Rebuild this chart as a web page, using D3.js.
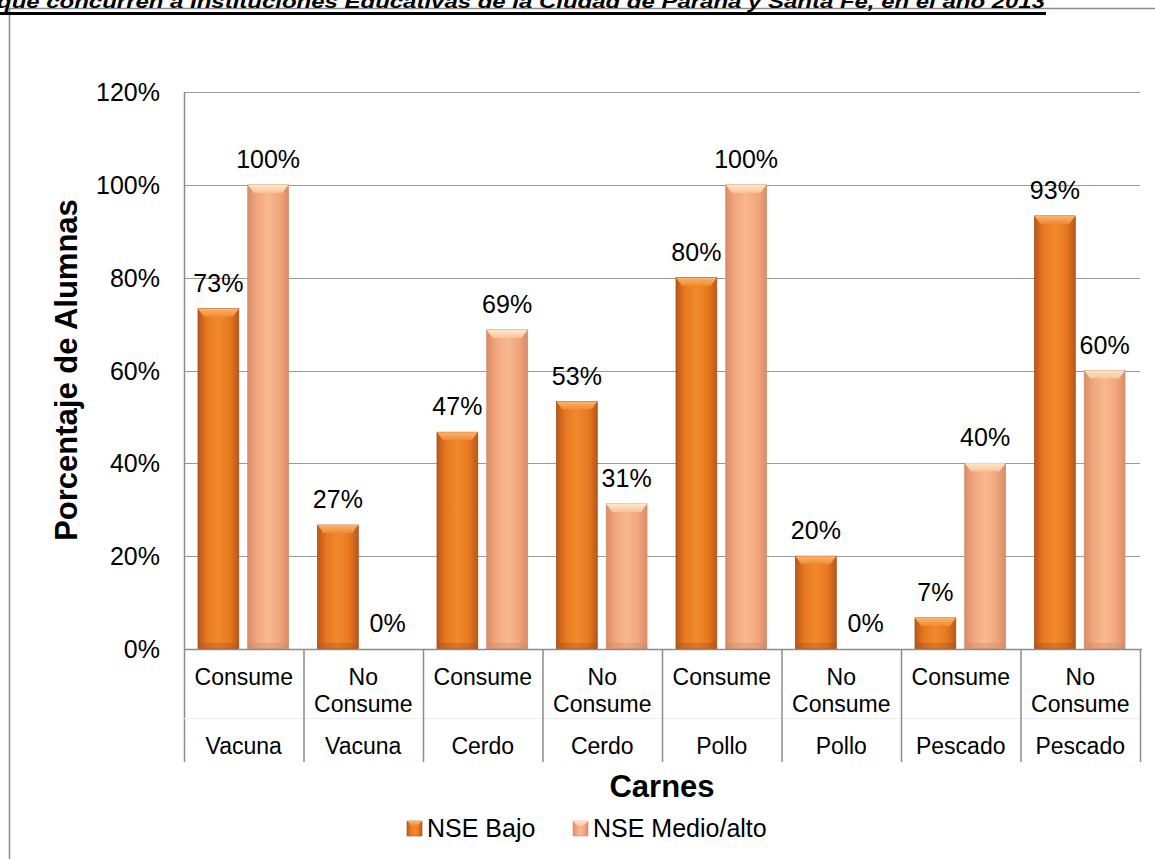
<!DOCTYPE html>
<html><head><meta charset="utf-8">
<script src="https://cdn.jsdelivr.net/npm/d3@7"></script>
<style>body{margin:0;background:#fff}svg{display:block;font-family:"Liberation Sans",Arial,sans-serif}</style>
</head><body>
<svg id="c" width="1155" height="859"></svg>
<script>
const categories = ["Vacuna","Vacuna","Cerdo","Cerdo","Pollo","Pollo","Pescado","Pescado"];
const subLabels = ["Consume","No Consume","Consume","No Consume","Consume","No Consume","Consume","No Consume"];
const seriesNames = ["NSE Bajo","NSE Medio/alto"];
const bajo = [73.3, 26.7, 46.7, 53.3, 80, 20, 6.7, 93.3];
const medio = [100, 0, 68.75, 31.25, 100, 0, 40, 60];
const yTicks = [0,20,40,60,80,100,120];
const titleText = "que concurren a Instituciones Educativas de la Ciudad de Paraná y Santa Fe, en el año 2013";

const svg = d3.select("#c");
const L = 184, R = 1140, T = 92, B = 649;
const idx = d3.range(categories.length);
const x = d3.scaleBand().domain(idx).range([L,R]).paddingInner(0).paddingOuter(0);
const y = d3.scaleLinear().domain([0,120]).range([B,T]);
const inner = d3.scaleBand().domain([0,1]).range([14, x.bandwidth()-15]).paddingInner(0.18);

const defs = svg.append("defs");
function grad(id, edge, mid, light){
  const g = defs.append("linearGradient").attr("id",id).attr("x1","0").attr("x2","1").attr("y1","0").attr("y2","0");
  g.append("stop").attr("offset","0%").attr("stop-color",edge);
  g.append("stop").attr("offset","22%").attr("stop-color",mid);
  g.append("stop").attr("offset","50%").attr("stop-color",light);
  g.append("stop").attr("offset","78%").attr("stop-color",mid);
  g.append("stop").attr("offset","100%").attr("stop-color",edge);
}
grad("g0","#b9581a","#e8781f","#f08a2c");
grad("g1","#d98c68","#f2a67c","#f8b890");
function vgrad(id, top, bottom){
  const g = defs.append("linearGradient").attr("id",id).attr("x1","0").attr("x2","0").attr("y1","0").attr("y2","1");
  g.append("stop").attr("offset","0%").attr("stop-color",top);
  g.append("stop").attr("offset","100%").attr("stop-color",bottom);
}
vgrad("t0","#fbb56e","#ef8a30");
vgrad("t1","#fde8c8","#f8c39c");

// frame
svg.append("line").attr("x1",9).attr("x2",1155).attr("y1",8.5).attr("y2",8.5).attr("stroke","#8c8c8c").attr("stroke-width",1.5);
svg.append("line").attr("x1",9.5).attr("x2",9.5).attr("y1",8).attr("y2",859).attr("stroke","#8c8c8c").attr("stroke-width",1.5);

// title (clipped at top, as in the reference)
svg.append("text").attr("x",-3).attr("y",8).attr("font-size",18).attr("font-weight","bold").attr("font-style","italic")
  .attr("textLength",1048).attr("lengthAdjust","spacingAndGlyphs").text(titleText);
svg.append("rect").attr("x",0).attr("y",12).attr("width",1046).attr("height",3).attr("fill","#000");

// gridlines
svg.append("g").selectAll("line").data(yTicks.filter(d=>d>0)).join("line")
  .attr("x1",L).attr("x2",R).attr("y1",d=>Math.round(y(d))+0.5).attr("y2",d=>Math.round(y(d))+0.5)
  .attr("stroke","#9a9a9a").attr("stroke-width",1);

// y axis labels
svg.append("g").selectAll("text").data(yTicks).join("text")
  .attr("x",160).attr("y",d=>y(d)+9).attr("text-anchor","end").attr("font-size",25).attr("fill","#000")
  .text(d=>d+"%");

// bars
const series = [bajo, medio];
series.forEach((vals,s)=>{
  const g = svg.append("g");
  const bw = inner.bandwidth();
  g.selectAll("rect.b").data(idx.filter(i=>vals[i]>0)).join("rect").attr("class","b")
    .attr("x",i=>x(i)+inner(s)).attr("width",bw)
    .attr("y",i=>y(vals[i])).attr("height",i=>B-y(vals[i]))
    .attr("fill",`url(#g${s})`).attr("stroke", s===0?"#a9501a":"#d0906e").attr("stroke-width",0.8);
  g.selectAll("path.t").data(idx.filter(i=>vals[i]>0)).join("path").attr("class","t")
    .attr("d",i=>{const x0=x(i)+inner(s), y0=y(vals[i]); const h=Math.min(8,(B-y0)/2);
      return `M${x0},${y0}L${x0+bw},${y0}L${x0+bw-6},${y0+h}L${x0+6},${y0+h}Z`;})
    .attr("fill",`url(#t${s})`);
  g.selectAll("rect.s").data(idx.filter(i=>vals[i]>0)).join("rect").attr("class","s")
    .attr("x",i=>x(i)+inner(s)).attr("width",bw).attr("y",B-6).attr("height",6)
    .attr("fill", s===0?"#a9541c":"#c98a6a").attr("opacity",0.35);
  g.selectAll("text").data(idx).join("text")
    .attr("x",i=>x(i)+inner(s)+bw/2).attr("y",i=>y(vals[i])-17)
    .attr("text-anchor","middle").attr("font-size",25).attr("fill","#000")
    .text(i=>Math.round(vals[i])+"%");
});

// axis lines
svg.append("line").attr("x1",L+0.5).attr("x2",L+0.5).attr("y1",T).attr("y2",762).attr("stroke","#8c8c8c").attr("stroke-width",1.5);
svg.append("line").attr("x1",L).attr("x2",R+2).attr("y1",B+0.5).attr("y2",B+0.5).attr("stroke","#8c8c8c").attr("stroke-width",1.5);
svg.append("line").attr("x1",L).attr("x2",R+2).attr("y1",718.5).attr("y2",718.5).attr("stroke","#ececec").attr("stroke-width",1);
svg.append("g").selectAll("line").data(idx).join("line")
  .attr("x1",i=>x(i)+x.bandwidth()+0.5).attr("x2",i=>x(i)+x.bandwidth()+0.5).attr("y1",B).attr("y2",762)
  .attr("stroke","#8c8c8c").attr("stroke-width",1.5);

// category labels
const cx = i=>x(i)+x.bandwidth()/2;
idx.forEach(i=>{
  const parts = subLabels[i].split(" ");
  const tx = svg.append("text").attr("text-anchor","middle").attr("font-size",23).attr("fill","#000");
  parts.forEach((p,k)=>tx.append("tspan").attr("x",cx(i)).attr("y",685+k*27).text(p));
  svg.append("text").attr("x",cx(i)).attr("y",754).attr("text-anchor","middle").attr("font-size",23).attr("fill","#000").text(categories[i]);
});

// axis titles
svg.append("text").attr("transform","translate(77,370) rotate(-90)").attr("text-anchor","middle")
  .attr("font-size",31).attr("font-weight","bold").text("Porcentaje de Alumnas");
svg.append("text").attr("x",662).attr("y",797).attr("text-anchor","middle")
  .attr("font-size",31).attr("font-weight","bold").text("Carnes");

// legend
const lg = [{x:407,tx:427},{x:573,tx:593}];
seriesNames.forEach((n,s)=>{
  svg.append("rect").attr("x",lg[s].x).attr("y",821).attr("width",15).attr("height",15).attr("fill",`url(#g${s})`)
    .attr("stroke",s===0?"#a9501a":"#d0906e").attr("stroke-width",0.6);
  svg.append("path").attr("d",`M${lg[s].x},821L${lg[s].x+15},821L${lg[s].x+10},826L${lg[s].x+5},826Z`).attr("fill",`url(#t${s})`);
  svg.append("text").attr("x",lg[s].tx).attr("y",837).attr("font-size",25).attr("fill","#000").text(n);
});
</script>
</body></html>
